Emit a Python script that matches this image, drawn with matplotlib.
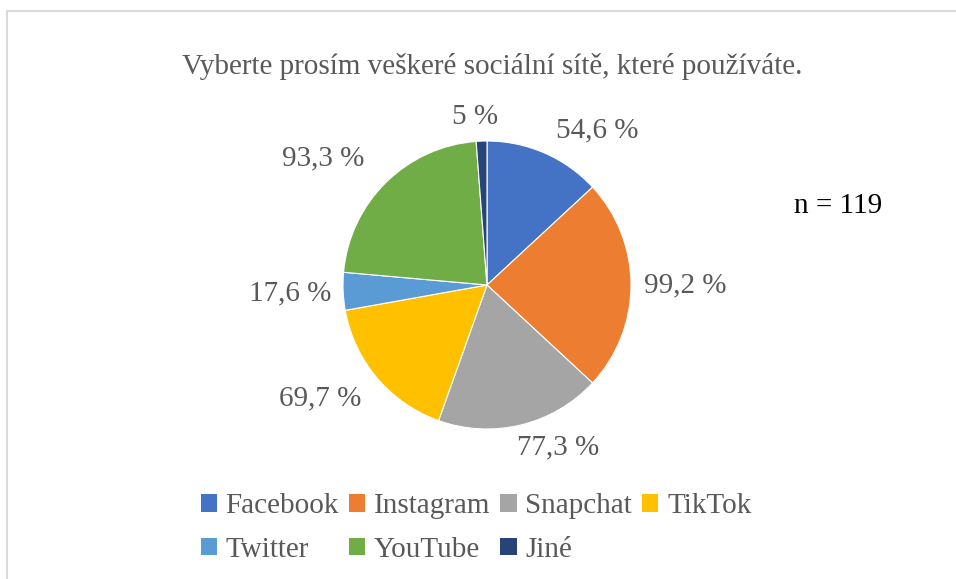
import matplotlib.pyplot as plt
from matplotlib.patches import Patch, Rectangle

categories = ['Facebook', 'Instagram', 'Snapchat', 'TikTok', 'Twitter', 'YouTube', 'Jiné']
values = [54.6, 99.2, 77.3, 69.7, 17.6, 93.3, 5]
labels = ['54,6 %', '99,2 %', '77,3 %', '69,7 %', '17,6 %', '93,3 %', '5 %']
colors = ['#4472C4', '#ED7D31', '#A5A5A5', '#FFC000', '#5B9BD5', '#70AD47', '#264478']

# label placement (pixel layout, like Excel's "best fit")
label_pos = [(597, 449), (685, 294), (558, 132), (320, 181), (290, 286), (323, 421), (475, 462)]

plt.rcParams['font.family'] = ['Liberation Serif', 'DejaVu Serif']
txt = '#595959'
fs = 21

fig = plt.figure(figsize=(9.56, 5.79), dpi=100)
ax = fig.add_axes([0, 0, 1, 1])

ax.add_patch(Rectangle((7, -20), 1000, 588, fill=False, edgecolor='#d9d9d9', lw=1.5))

ax.pie(values, colors=colors, startangle=90, counterclock=False,
       center=(487, 294), radius=144, frame=True,
       wedgeprops=dict(edgecolor='white', linewidth=0.8))
ax.set_xlim(0, 956)
ax.set_ylim(0, 579)
ax.axis('off')

for lab, (x, y) in zip(labels, label_pos):
    ax.text(x, y, lab, ha='center', va='center', fontsize=fs, color=txt)

ax.text(492, 512, 'Vyberte prosím veškeré sociální sítě, které používáte.',
        ha='center', va='center', fontsize=fs, color=txt)
ax.text(838, 373, 'n = 119', ha='center', va='center', fontsize=fs, color='black')

handles = [Patch(facecolor=c, edgecolor='none') for c in colors]
order = [0, 4, 1, 5, 2, 6, 3]
fig.legend([handles[i] for i in order], [categories[i] for i in order],
           loc='center', bbox_to_anchor=(476 / 956, 51 / 579), ncol=4, frameon=False,
           fontsize=fs, labelcolor=txt, handlelength=0.55, handleheight=0.55,
           handletextpad=0.3, columnspacing=0.35, labelspacing=0.6)

fig.savefig('out.png', dpi=100)
